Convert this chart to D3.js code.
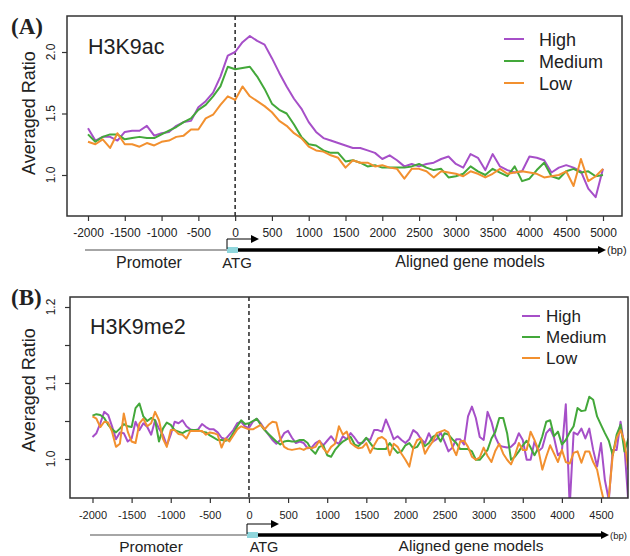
<!DOCTYPE html>
<html>
<head>
<meta charset="utf-8">
<script src="https://cdnjs.cloudflare.com/ajax/libs/d3/7.8.5/d3.min.js"></script>
<style>
    body { margin: 0; background: #fff; }
    text { font-family: "Liberation Sans", Arial, sans-serif; fill: #222; }
</style>
</head>
<body>
<script>
// ---- data ----
var seriesNames = ["High", "Medium", "Low"];
var seriesColors = ["#a64fc8", "#43a83a", "#f2902f"];

// Panel A: H3K9ac, bins every 100 bp
var bpA = [-2000, -1900, -1800, -1700, -1600, -1500, -1400, -1300, -1200, -1100,
    -1000, -900, -800, -700, -600, -500, -400, -300, -200, -100,
    0, 100, 200, 300, 400, 500, 600, 700, 800, 900,
    1000, 1100, 1200, 1300, 1400, 1500, 1600, 1700, 1800, 1900,
    2000, 2100, 2200, 2300, 2400, 2500, 2600, 2700, 2800, 2900,
    3000, 3100, 3200, 3300, 3400, 3500, 3600, 3700, 3800, 3900,
    4000, 4100, 4200, 4300, 4400, 4500, 4600, 4700, 4800, 4900, 5000];
var highA = [1.38, 1.28, 1.31, 1.31, 1.28, 1.35, 1.36, 1.36, 1.40, 1.32,
    1.34, 1.35, 1.40, 1.43, 1.44, 1.55, 1.60, 1.67, 1.80, 1.97,
    2.00, 2.08, 2.13, 2.09, 2.06, 1.95, 1.83, 1.72, 1.62, 1.54,
    1.43, 1.35, 1.30, 1.28, 1.26, 1.24, 1.22, 1.22, 1.20, 1.18,
    1.13, 1.16, 1.12, 1.07, 1.09, 1.07, 1.09, 1.10, 1.13, 1.15,
    1.09, 1.06, 1.17, 1.14, 1.04, 1.17, 1.07, 1.04, 1.02, 1.03,
    1.15, 1.14, 1.12, 1.02, 1.06, 1.08, 1.06, 1.03, 0.89, 0.82, 1.05];
var mediumA = [1.33, 1.27, 1.31, 1.33, 1.33, 1.29, 1.30, 1.31, 1.30, 1.30,
    1.33, 1.36, 1.39, 1.43, 1.46, 1.53, 1.57, 1.64, 1.72, 1.88,
    1.86, 1.87, 1.88, 1.80, 1.70, 1.58, 1.53, 1.50, 1.41, 1.31,
    1.25, 1.24, 1.20, 1.18, 1.18, 1.11, 1.12, 1.10, 1.07, 1.08,
    1.06, 1.06, 1.06, 1.06, 1.07, 1.09, 1.06, 1.04, 1.05, 0.98,
    0.99, 1.01, 1.07, 1.03, 1.00, 1.05, 1.02, 0.99, 1.07, 0.95,
    0.97, 1.04, 1.10, 0.99, 0.97, 1.03, 1.05, 1.02, 1.03, 0.99, 1.00];
var lowA = [1.27, 1.25, 1.29, 1.22, 1.34, 1.25, 1.25, 1.23, 1.26, 1.24,
    1.27, 1.28, 1.31, 1.32, 1.37, 1.37, 1.46, 1.49, 1.57, 1.64,
    1.61, 1.72, 1.64, 1.60, 1.56, 1.51, 1.44, 1.40, 1.34, 1.30,
    1.23, 1.20, 1.19, 1.16, 1.14, 1.06, 1.12, 1.10, 1.10, 1.07,
    1.08, 1.06, 1.05, 0.97, 1.05, 1.05, 1.03, 0.98, 1.03, 1.02,
    1.01, 0.99, 1.03, 1.01, 0.98, 1.01, 1.05, 1.01, 1.02, 1.03,
    1.02, 1.01, 0.98, 0.99, 1.00, 1.03, 0.91, 1.13, 0.95, 0.99, 1.05];
var xTicksA = [-2000, -1500, -1000, -500, 0, 500, 1000, 1500, 2000, 2500, 3000, 3500, 4000, 4500, 5000];
var yTicksA = [1.0, 1.5, 2.0];
var yLabelsA = ["1.0", "1.5", "2.0"];

// Panel B: H3K9me2, bins every 50 bp
var bpB = [-2000, -1950, -1900, -1850, -1800, -1750, -1700, -1650, -1600, -1550,
    -1500, -1450, -1400, -1350, -1300, -1250, -1200, -1150, -1100, -1050,
    -1000, -950, -900, -850, -800, -750, -700, -650, -600, -550,
    -500, -450, -400, -350, -300, -250, -200, -150, -100, -50,
    0, 50, 100, 150, 200, 250, 300, 350, 400, 450,
    500, 550, 600, 650, 700, 750, 800, 850, 900, 950,
    1000, 1050, 1100, 1150, 1200, 1250, 1300, 1350, 1400, 1450,
    1500, 1550, 1600, 1650, 1700, 1750, 1800, 1850, 1900, 1950,
    2000, 2050, 2100, 2150, 2200, 2250, 2300, 2350, 2400, 2450,
    2500, 2550, 2600, 2650, 2700, 2750, 2800, 2850, 2900, 2950,
    3000, 3050, 3100, 3150, 3200, 3250, 3300, 3350, 3400, 3450,
    3500, 3550, 3600, 3650, 3700, 3750, 3800, 3850, 3900, 3950,
    4000, 4050, 4100, 4150, 4200, 4250, 4300, 4350, 4400, 4450,
    4500, 4550, 4600, 4650, 4700, 4750, 4800, 4850];
var highB = [1.029, 1.034, 1.047, 1.062, 1.058, 1.043, 1.026, 1.035, 1.034, 1.023,
    1.027, 1.049, 1.038, 1.047, 1.042, 1.032, 1.051, 1.040, 1.032, 1.018,
    1.032, 1.049, 1.047, 1.051, 1.043, 1.039, 1.038, 1.039, 1.046, 1.042,
    1.039, 1.039, 1.035, 1.028, 1.026, 1.032, 1.038, 1.047, 1.049, 1.043,
    1.041, 1.049, 1.053, 1.047, 1.039, 1.032, 1.025, 1.020, 1.025, 1.034,
    1.037, 1.028, 1.021, 1.023, 1.021, 1.014, 1.015, 1.021, 1.024, 1.018,
    1.024, 1.030, 1.023, 1.020, 1.030, 1.026, 1.034, 1.028, 1.021, 1.021,
    1.027, 1.025, 1.038, 1.038, 1.036, 1.052, 1.040, 1.026, 1.030, 1.025,
    1.021, 1.026, 1.038, 1.034, 1.026, 1.021, 1.034, 1.023, 1.026, 1.035,
    1.023, 1.010, 1.015, 1.026, 1.026, 1.019, 1.056, 1.069, 1.054, 1.029,
    1.025, 1.062, 1.049, 1.029, 1.018, 1.016, 1.015, 1.016, 1.021, 1.034,
    1.025, 0.999, 0.999, 1.023, 1.010, 1.015, 1.034, 1.040, 1.028, 1.005,
    1.010, 1.072, 0.937, 1.035, 1.032, 1.040, 1.027, 1.040, 1.012, 0.990,
    1.021, 0.972, 0.946, 1.012, 1.012, 1.049, 1.016, 0.942];
var mediumB = [1.057, 1.059, 1.058, 1.054, 1.045, 1.039, 1.035, 1.040, 1.046, 1.043,
    1.042, 1.067, 1.073, 1.056, 1.050, 1.054, 1.051, 1.023, 1.040, 1.048,
    1.045, 1.038, 1.036, 1.034, 1.037, 1.038, 1.038, 1.038, 1.036, 1.035,
    1.031, 1.028, 1.025, 1.025, 1.024, 1.026, 1.034, 1.043, 1.051, 1.046,
    1.047, 1.050, 1.053, 1.045, 1.038, 1.033, 1.028, 1.023, 1.019, 1.023,
    1.024, 1.023, 1.023, 1.025, 1.025, 1.021, 1.012, 1.007, 1.016, 1.018,
    1.005, 1.003, 1.012, 1.018, 1.023, 1.026, 1.029, 1.019, 1.017, 1.022,
    1.028, 1.021, 1.014, 1.013, 1.013, 1.013, 1.021, 1.014, 1.008, 1.010,
    1.018, 1.021, 1.014, 1.016, 1.024, 1.017, 1.021, 1.029, 1.032, 1.023,
    1.034, 1.032, 1.026, 1.021, 1.013, 1.013, 1.013, 1.010, 0.999, 0.999,
    1.005, 1.012, 1.027, 1.036, 1.054, 1.054, 1.034, 0.999, 1.003, 1.010,
    1.018, 1.024, 1.015, 1.005, 1.015, 1.030, 1.049, 1.051, 1.030, 1.036,
    1.019, 1.025, 1.035, 1.043, 1.067, 1.063, 1.064, 1.082, 1.078, 1.056,
    1.045, 1.034, 1.024, 1.005, 1.032, 1.045, 1.010, 1.027];
var lowB = [1.056, 1.053, 1.042, 1.049, 1.048, 1.036, 1.016, 1.020, 1.060, 1.036,
    1.023, 1.021, 1.047, 1.053, 1.043, 1.047, 1.062, 1.051, 1.027, 1.016,
    1.038, 1.038, 1.033, 1.032, 1.027, 1.037, 1.037, 1.037, 1.037, 1.032,
    1.035, 1.034, 1.032, 1.015, 1.027, 1.023, 1.031, 1.039, 1.043, 1.041,
    1.039, 1.039, 1.042, 1.045, 1.039, 1.045, 1.049, 1.048, 1.027, 1.016,
    1.013, 1.012, 1.013, 1.014, 1.012, 1.015, 1.014, 1.016, 1.024, 1.014,
    1.008, 1.016, 1.020, 1.043, 1.032, 1.036, 1.021, 1.017, 1.014, 1.015,
    1.021, 1.008, 1.018, 1.027, 1.029, 1.025, 1.005, 1.020, 1.016, 1.007,
    0.999, 0.990, 1.014, 1.025, 1.027, 1.007, 1.016, 1.023, 1.034, 1.036,
    1.038, 1.035, 1.016, 1.005, 1.023, 1.024, 1.016, 1.003, 0.999, 1.002,
    1.015, 1.004, 0.996, 1.011, 1.020, 1.007, 0.999, 0.993, 1.005, 1.021,
    1.012, 1.012, 1.036, 1.025, 1.012, 0.986, 1.003, 1.018, 1.007, 0.996,
    1.012, 0.996, 0.994, 1.008, 1.010, 0.995, 1.010, 1.010, 0.996, 0.986,
    0.961, 0.939, 0.950, 1.005, 1.028, 1.038, 1.023, 0.986];
var xTicksB = [-2000, -1500, -1000, -500, 0, 500, 1000, 1500, 2000, 2500, 3000, 3500, 4000, 4500];
var yTicksB = [1.0, 1.05, 1.1, 1.15, 1.2];
var yLabelValuesB = [1.0, 1.1, 1.2];
var yLabelsB = ["1.0", "1.1", "1.2"];

var svg = d3.select("body").append("svg")
    .attr("width", 630)
    .attr("height", 556);
var defs = svg.append("defs");

function drawPanel(p) {
    var x = d3.scaleLinear().domain(p.xDomain).range(p.xRange);
    var y = d3.scaleLinear().domain(p.yDomain).range(p.yRange);
    var g = svg.append("g");
    var left = p.box[0], top = p.box[1], right = p.box[2], bottom = p.box[3];

    defs.append("clipPath").attr("id", p.id + "-clip")
        .append("rect")
        .attr("x", left).attr("y", top)
        .attr("width", right - left).attr("height", bottom - top);

    // ATG dashed line
    g.append("line")
        .attr("x1", x(0)).attr("x2", x(0))
        .attr("y1", top).attr("y2", bottom)
        .attr("stroke", "#333")
        .attr("stroke-width", 1.6)
        .attr("stroke-dasharray", "4,3");

    // series lines
    var line = d3.line()
        .x(function (d, i) { return x(p.bp[i]); })
        .y(function (d) { return y(d); });
    p.series.forEach(function (values, k) {
        g.append("path")
            .datum(values)
            .attr("d", line)
            .attr("fill", "none")
            .attr("stroke", seriesColors[k])
            .attr("stroke-width", 2)
            .attr("stroke-linejoin", "round")
            .attr("clip-path", "url(#" + p.id + "-clip)");
    });

    // frame
    g.append("rect")
        .attr("x", left).attr("y", top)
        .attr("width", right - left).attr("height", bottom - top)
        .attr("fill", "none")
        .attr("stroke", "#333")
        .attr("stroke-width", 1.5);

    // x axis
    var xAxis = g.append("g")
        .attr("transform", "translate(0," + bottom + ")")
        .call(d3.axisBottom(x)
            .tickValues(p.xTicks)
            .tickSize(5)
            .tickPadding(p.xPad)
            .tickFormat(function (d) { return String(d); }));
    xAxis.select(".domain").remove();
    xAxis.selectAll("line").attr("stroke", "#333").attr("stroke-width", 1.2);
    xAxis.selectAll("text")
        .style("font-family", "'Liberation Sans', Arial, sans-serif")
        .style("font-size", p.xFont + "px")
        .attr("fill", "#333");

    // y axis ticks
    var yAxis = g.append("g")
        .attr("transform", "translate(" + left + ",0)")
        .call(d3.axisLeft(y)
            .tickValues(p.yTicks)
            .tickSize(5)
            .tickFormat(""));
    yAxis.select(".domain").remove();
    yAxis.selectAll("line").attr("stroke", "#333").attr("stroke-width", 1.2);

    // y tick labels (rotated, R style)
    g.selectAll(".ylab")
        .data(p.yLabelValues)
        .enter()
        .append("text")
        .attr("transform", function (d) { return "translate(" + p.yLabX + "," + y(d) + ") rotate(-90)"; })
        .attr("text-anchor", "middle")
        .style("font-size", "12px")
        .attr("fill", "#333")
        .text(function (d, i) { return p.yLabels[i]; });

    // axis title
    g.append("text")
        .attr("transform", "translate(" + p.titleX + "," + p.titleY + ") rotate(-90)")
        .attr("text-anchor", "middle")
        .style("font-size", "18px")
        .text("Averaged Ratio");

    // panel letter
    g.append("text")
        .attr("x", 11).attr("y", p.letterY)
        .style("font-family", "'Liberation Serif', 'Times New Roman', serif")
        .style("font-weight", "bold")
        .style("font-size", "23px")
        .attr("fill", "#111")
        .text(p.letter);

    // mark name
    g.append("text")
        .attr("x", p.markX).attr("y", p.markY)
        .style("font-size", "21.5px")
        .text(p.mark);

    // legend
    seriesNames.forEach(function (name, k) {
        g.append("line")
            .attr("x1", p.legend.x1).attr("x2", p.legend.x2)
            .attr("y1", p.legend.ys[k]).attr("y2", p.legend.ys[k])
            .attr("stroke", seriesColors[k])
            .attr("stroke-width", 2);
        g.append("text")
            .attr("x", p.legend.tx)
            .attr("y", p.legend.ys[k] + p.legend.dy)
            .style("font-size", p.legend.font + "px")
            .text(name);
    });

    // gene model row
    var gm = p.gene;
    g.append("line")
        .attr("x1", gm.start).attr("x2", gm.atg0)
        .attr("y1", gm.y).attr("y2", gm.y)
        .attr("stroke", "#888").attr("stroke-width", 1.6);
    g.append("line")
        .attr("x1", gm.atg1).attr("x2", gm.end - 6)
        .attr("y1", gm.y).attr("y2", gm.y)
        .attr("stroke", "#000").attr("stroke-width", 3.5);
    g.append("path")
        .attr("d", "M" + gm.end + "," + gm.y + "L" + (gm.end - 8) + "," + (gm.y - 4) + "L" + (gm.end - 8) + "," + (gm.y + 4) + "Z")
        .attr("fill", "#000");
    g.append("rect")
        .attr("x", gm.atg0).attr("y", gm.y - 3)
        .attr("width", gm.atg1 - gm.atg0).attr("height", 6)
        .attr("fill", "#8fd6dc");
    g.append("path")
        .attr("d", "M" + gm.atg0 + "," + (gm.y - 1) + "V" + (gm.y - 11) + "H" + (gm.arrow - 6))
        .attr("fill", "none")
        .attr("stroke", "#000")
        .attr("stroke-width", 1);
    g.append("path")
        .attr("d", "M" + gm.arrow + "," + (gm.y - 11) + "L" + (gm.arrow - 8) + "," + (gm.y - 15) + "L" + (gm.arrow - 8) + "," + (gm.y - 7) + "Z")
        .attr("fill", "#000");
    g.append("text")
        .attr("x", gm.end + 1).attr("y", gm.y + 4)
        .style("font-size", gm.bpFont + "px")
        .text("(bp)");
    g.append("text")
        .attr("x", gm.promX).attr("y", gm.labY)
        .attr("text-anchor", "middle")
        .style("font-size", gm.labFont + "px")
        .text("Promoter");
    g.append("text")
        .attr("x", gm.atgX).attr("y", gm.labY)
        .attr("text-anchor", "middle")
        .style("font-size", (gm.labFont - 1) + "px")
        .text("ATG");
    g.append("text")
        .attr("x", gm.geneX).attr("y", gm.labY - 1)
        .attr("text-anchor", "middle")
        .style("font-size", gm.labFont + "px")
        .text("Aligned gene models");
}

drawPanel({
    id: "a", letter: "(A)", letterY: 34, mark: "H3K9ac", markX: 88, markY: 54,
    bp: bpA, series: [highA, mediumA, lowA],
    xDomain: [-2000, 5000], xRange: [88, 603],
    yDomain: [1.0, 2.0], yRange: [175, 52],
    box: [67, 16, 622, 216],
    xTicks: xTicksA, xPad: 7, xFont: 12,
    yTicks: yTicksA, yLabelValues: yTicksA, yLabels: yLabelsA, yLabX: 55,
    titleX: 35, titleY: 113,
    legend: { x1: 504, x2: 524, tx: 539, ys: [39, 61, 83], dy: 6.5, font: 18 },
    gene: { y: 250, start: 85, atg0: 227, atg1: 238, end: 606, arrow: 259,
        promX: 149, atgX: 237, geneX: 470, labY: 268, labFont: 16, bpFont: 11 }
});

drawPanel({
    id: "b", letter: "(B)", letterY: 305, mark: "H3K9me2", markX: 90, markY: 334,
    bp: bpB, series: [highB, mediumB, lowB],
    xDomain: [-2000, 4500], xRange: [92.5, 601],
    yDomain: [1.0, 1.2], yRange: [459, 307],
    box: [70, 297, 628, 498],
    xTicks: xTicksB, xPad: 8, xFont: 11,
    yTicks: yTicksB, yLabelValues: yLabelValuesB, yLabels: yLabelsB, yLabX: 55,
    titleX: 35, titleY: 390,
    legend: { x1: 522, x2: 540, tx: 546, ys: [316, 337, 358], dy: 6, font: 17 },
    gene: { y: 535, start: 90, atg0: 247, atg1: 258, end: 609, arrow: 279,
        promX: 151, atgX: 264, geneX: 471, labY: 552, labFont: 15.5, bpFont: 9.5 }
});
</script>
</body>
</html>
